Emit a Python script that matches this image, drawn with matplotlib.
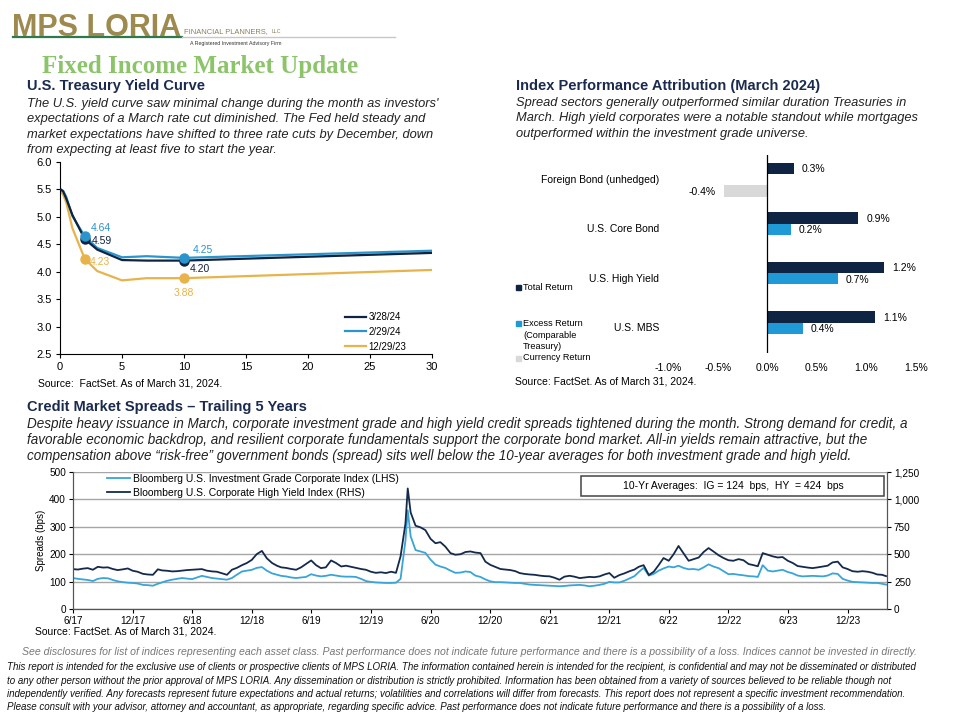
import numpy as np
import pandas as pd
import matplotlib
matplotlib.use("Agg")
import matplotlib.pyplot as plt
from matplotlib.patches import Rectangle
from matplotlib.lines import Line2D
from matplotlib.ticker import FuncFormatter

plt.rcParams["font.family"] = ["Liberation Sans", "DejaVu Sans"]

NAVY = "#0f2342"
BLUE = "#2a95cc"
GOLD = "#e8b34a"
HEAD = "#1b2b4f"

# ---- Treasury yield curve ----
maturities = [1 / 12, 0.25, 0.5, 1, 2, 3, 5, 7, 10, 30]
yc_0328 = [5.49, 5.46, 5.33, 5.03, 4.59, 4.40, 4.21, 4.20, 4.20, 4.34]
yc_0229 = [5.49, 5.47, 5.36, 5.01, 4.64, 4.43, 4.26, 4.28, 4.25, 4.38]
yc_1229 = [5.45, 5.40, 5.26, 4.79, 4.23, 4.01, 3.84, 3.88, 3.88, 4.03]
yc_names = ["3/28/24", "2/29/24", "12/29/23"]

# ---- Index performance attribution (March 2024, %) ----
attr_categories = ["Foreign Bond (unhedged)", "U.S. Core Bond", "U.S. High Yield", "U.S. MBS"]
total_return = [0.27, 0.92, 1.18, 1.09]
excess_return = [np.nan, 0.24, 0.71, 0.36]
currency_return = [-0.44, np.nan, np.nan, np.nan]

# ---- Credit spreads, 1st and 16th of each month (bps) ----
ig_2017 = [113, 110, 108, 106, 102, 110, 113, 112, 106, 101, 98, 96, 95, 93]
ig_2018 = [88, 87, 85, 92, 97, 103, 107, 110, 113, 111, 109, 115, 121, 117, 113, 111, 109, 107, 113, 125, 137, 140, 143, 150]
ig_2019 = [153, 140, 130, 125, 121, 119, 115, 113, 115, 117, 127, 122, 119, 121, 125, 122, 119, 118, 118, 117, 110, 102, 99, 97]
ig_2020 = [96, 95, 95, 96, 110, 250, 265, 215, 210, 205, 180, 162, 155, 150, 140, 132, 133, 137, 135, 122, 117, 108, 101, 98]
ig_2021 = [98, 97, 96, 95, 95, 92, 89, 88, 87, 86, 85, 84, 83, 84, 86, 87, 88, 86, 83, 85, 88, 92, 99, 97]
ig_2022 = [97, 103, 112, 120, 135, 150, 122, 128, 140, 148, 155, 152, 158, 150, 145, 146, 143, 152, 163, 155, 149, 138, 127, 128]
ig_2023 = [125, 123, 120, 119, 117, 160, 140, 137, 140, 143, 135, 130, 122, 119, 120, 121, 120, 119, 122, 130, 128, 110, 104, 99]
ig_2024 = [98, 97, 96, 95, 95, 92, 89]

hy_2017 = [364, 360, 368, 373, 358, 385, 378, 380, 365, 355, 362, 370, 349, 340]
hy_2018 = [321, 315, 312, 362, 352, 349, 343, 345, 350, 355, 358, 360, 364, 350, 343, 340, 325, 312, 358, 375, 400, 420, 448, 500]
hy_2019 = [530, 463, 420, 395, 380, 375, 365, 358, 380, 410, 443, 400, 373, 380, 443, 420, 388, 395, 385, 375, 365, 358, 340, 330]
hy_2020 = [335, 328, 340, 330, 480, 780, 880, 760, 745, 720, 640, 600, 610, 570, 510, 495, 500, 520, 525, 515, 510, 432, 403, 385]
hy_2021 = [365, 360, 355, 345, 328, 320, 315, 312, 305, 300, 298, 285, 267, 295, 303, 295, 282, 288, 293, 290, 298, 315, 328, 285]
hy_2022 = [310, 325, 345, 360, 385, 400, 310, 340, 400, 465, 440, 500, 575, 510, 440, 455, 470, 520, 556, 525, 490, 465, 445, 440]
hy_2023 = [455, 445, 410, 400, 390, 510, 495, 480, 470, 474, 440, 420, 392, 385, 378, 373, 380, 388, 395, 425, 432, 380, 365, 345]
hy_2024 = [340, 345, 340, 330, 315, 312, 300]

# Covid peak (Mar 23, 2020)
peak_date = ["2020-03-23"]
peak_ig = [360]
peak_hy = [1100]

months = pd.date_range("2017-06-01", "2024-03-01", freq="MS")
dates = []
for m in months:
    dates += [m, m + pd.Timedelta(days=15)]
dates.append(pd.Timestamp("2024-03-28"))

spreads = pd.DataFrame({
    "date": dates,
    "ig": ig_2017 + ig_2018 + ig_2019 + ig_2020 + ig_2021 + ig_2022 + ig_2023 + ig_2024,
    "hy": hy_2017 + hy_2018 + hy_2019 + hy_2020 + hy_2021 + hy_2022 + hy_2023 + hy_2024,
})
spreads = pd.concat([spreads, pd.DataFrame({"date": pd.to_datetime(peak_date), "ig": peak_ig, "hy": peak_hy})])
spreads = spreads.sort_values("date")

fig = plt.figure(figsize=(9.6, 7.2), dpi=100)


def fx(px):
    return px / 960


def fy(py):
    return 1 - py / 720


def put_lines(x, y0, dy, lines, **kw):
    for i, line in enumerate(lines):
        fig.text(fx(x), fy(y0 + i * dy), line, va="center", **kw)


# ---- header / logo ----
fig.text(fx(12), fy(36), "MPS LORIA", fontsize=22, weight="bold", color="#9e8a4e", va="baseline")
fig.text(fx(184), fy(33), "FINANCIAL PLANNERS,", fontsize=5.4, color="#8a7e5c", va="baseline")
fig.text(fx(272), fy(33), "LLC", fontsize=3.8, color="#8a7e5c", va="baseline")
fig.text(fx(190), fy(43), "A Registered Investment Advisory Firm", fontsize=3.8, color="#333333", va="center")
fig.add_artist(Line2D([fx(13), fx(182)], [fy(37), fy(37)], color="#2f7a4d", lw=1.6))
fig.add_artist(Line2D([fx(182), fx(395)], [fy(37), fy(37)], color="#c2cbc2", lw=1.0))
fig.text(fx(42), fy(66), "Fixed Income Market Update", fontsize=18, weight="bold",
         family=["Liberation Serif", "DejaVu Serif"], color="#8cc46a", va="center")

# ---- section 1 text ----
fig.text(fx(27), fy(86), "U.S. Treasury Yield Curve", fontsize=10.5, weight="bold", color=HEAD, va="center")
put_lines(27, 104, 15.3, [
    "The U.S. yield curve saw minimal change during the month as investors'",
    "expectations of a March rate cut diminished. The Fed held steady and",
    "market expectations have shifted to three rate cuts by December, down",
    "from expecting at least five to start the year.",
], fontsize=9.3, style="italic", color="#222222")

# ---- section 2 text ----
fig.text(fx(516), fy(86), "Index Performance Attribution (March 2024)", fontsize=10.5, weight="bold",
         color=HEAD, va="center")
put_lines(516, 103, 15.5, [
    "Spread sectors generally outperformed similar duration Treasuries in",
    "March. High yield corporates were a notable standout while mortgages",
    "outperformed within the investment grade universe.",
], fontsize=9.3, style="italic", color="#222222")

# ---- yield curve chart ----
ax1 = fig.add_axes([fx(60), fy(354), (432 - 60) / 960, (354 - 161.7) / 720])
for vals, name, col in zip([yc_0328, yc_0229, yc_1229], yc_names, [NAVY, BLUE, GOLD]):
    ax1.plot(maturities, vals, color=col, lw=1.6, label=name, zorder=3 if col == NAVY else 2)
    idx2, idx10 = maturities.index(2), maturities.index(10)
    ax1.plot([2, 10], [vals[idx2], vals[idx10]], "o", color=col, ms=6.5, zorder=4 if col == BLUE else 3)

label_spots = [
    (2, yc_0229[4], BLUE, (6, 8), "left"),
    (2, yc_0328[4], NAVY, (7, -2), "left"),
    (2, yc_1229[4], GOLD, (5, -3), "left"),
    (10, yc_0229[8], BLUE, (9, 8), "left"),
    (10, yc_0328[8], NAVY, (6, -8), "left"),
    (10, yc_1229[8], GOLD, (0, -15), "center"),
]
for x, y, col, off, ha in label_spots:
    ax1.annotate(f"{y:.2f}", (x, y), xytext=off, textcoords="offset pixels", ha=ha, va="center",
                 fontsize=7.5, color=col)

ax1.set_xlim(0, 30)
ax1.set_ylim(2.5, 6.0)
ax1.set_xticks(range(0, 31, 5))
ax1.set_yticks(np.arange(2.5, 6.01, 0.5))
ax1.yaxis.set_major_formatter(FuncFormatter(lambda v, _: f"{v:.1f}"))
ax1.tick_params(labelsize=8, length=3, width=0.8, color="black", pad=3)
for s in ["top", "right"]:
    ax1.spines[s].set_visible(False)
for s in ["left", "bottom"]:
    ax1.spines[s].set_color("black")
    ax1.spines[s].set_linewidth(0.8)
ax1.patch.set_alpha(0)
ax1.legend(loc="upper left", bbox_to_anchor=(fx(345), fy(312)), bbox_transform=fig.transFigure,
           frameon=False, fontsize=7, handlelength=2.2, handletextpad=0.2, labelspacing=0.5,
           borderpad=0, borderaxespad=0)
fig.text(fx(38), fy(384), "Source:  FactSet. As of March 31, 2024.", fontsize=7.5, va="center")

# ---- attribution bar chart ----
ax2 = fig.add_axes([fx(668), fy(353), 248 / 960, 198 / 720])
pos = np.arange(len(attr_categories))
h = 0.232
for vals, off, col in [(total_return, -h, NAVY), (excess_return, 0, "#1f9ad7"), (currency_return, h, "#d9d9d9")]:
    ax2.barh(pos + off, vals, height=h, color=col, edgecolor="none")
    for p, v in zip(pos, vals):
        if np.isnan(v):
            continue
        if v >= 0:
            ax2.annotate(f"{v:.1f}%", (v, p + off), xytext=(8, -1), textcoords="offset pixels",
                         ha="left", va="center", fontsize=7.5)
        else:
            ax2.annotate(f"{v:.1f}%", (v, p + off), xytext=(-8, -1), textcoords="offset pixels",
                         ha="right", va="center", fontsize=7.5)
ax2.set_ylim(len(attr_categories) - 0.5, -0.5)
ax2.set_xlim(-1.0, 1.5)
ax2.set_xticks(np.arange(-1.0, 1.51, 0.5))
ax2.xaxis.set_major_formatter(FuncFormatter(lambda v, _: f"{v:.1f}%"))
ax2.set_yticks([])
ax2.tick_params(axis="x", length=0, labelsize=7.5, pad=7)
for s in ax2.spines.values():
    s.set_visible(False)
ax2.axvline(0, color="black", lw=0.9)
ax2.patch.set_alpha(0)
for p, name in zip(pos, attr_categories):
    ax2.annotate(name, (-1.0, p), xytext=(-9, 0), textcoords="offset pixels", ha="right", va="center",
                 fontsize=7.5, annotation_clip=False)

legend_items = [("Total Return", NAVY, 287), ("Excess Return", "#1f9ad7", 323),
                ("Currency Return", "#d9d9d9", 358)]
for txt, col, yy in legend_items:
    fig.add_artist(Rectangle((fx(516), fy(yy + 2.5)), 5 / 960, 5 / 720, color=col, transform=fig.transFigure))
    fig.text(fx(523), fy(yy), txt, fontsize=6.6, va="center")
fig.text(fx(523), fy(335), "(Comparable", fontsize=6.6, va="center")
fig.text(fx(523), fy(346), "Treasury)", fontsize=6.6, va="center")
fig.text(fx(515), fy(382), "Source: FactSet. As of March 31, 2024.", fontsize=7.5, va="center")

# ---- section 3 text ----
fig.text(fx(27), fy(407), "Credit Market Spreads \u2013 Trailing 5 Years", fontsize=10.5, weight="bold",
         color=HEAD, va="center")
put_lines(27, 424, 16, [
    "Despite heavy issuance in March, corporate investment grade and high yield credit spreads tightened during the month. "
    "Strong demand for credit, a",
    "favorable economic backdrop, and resilient corporate fundamentals support the corporate bond market. "
    "All-in yields remain attractive, but the",
    "compensation above \u201crisk-free\u201d government bonds (spread) sits well below the 10-year averages "
    "for both investment grade and high yield.",
], fontsize=9.75, style="italic", color="#222222")

# ---- spreads chart ----
ax3 = fig.add_axes([fx(73), fy(609), (887 - 73) / 960, (609 - 472) / 720])
ax3r = ax3.twinx()
ax3.set_ylim(0, 500)
ax3r.set_ylim(0, 1250)
ax3.set_yticks(range(0, 501, 100))
ax3r.set_yticks(range(0, 1251, 250))
ax3r.yaxis.set_major_formatter(FuncFormatter(lambda v, _: f"{int(v):,}"))
ax3.grid(axis="y", color="#a6a6a6", lw=1)
ax3.set_axisbelow(True)
l_ig, = ax3.plot(spreads["date"], spreads["ig"], color="#38a5d8", lw=1.3,
                 label="Bloomberg U.S. Investment Grade Corporate Index (LHS)")
l_hy, = ax3r.plot(spreads["date"], spreads["hy"], color="#142a4c", lw=1.3,
                  label="Bloomberg U.S. Corporate High Yield Index (RHS)")
ax3.set_xlim(pd.Timestamp("2017-06-01"), pd.Timestamp("2024-03-31"))
ticks = pd.date_range("2017-06-01", "2023-12-01", freq="6MS")
ax3.set_xticks(ticks)
ax3.set_xticklabels([f"{d.month}/{d.strftime('%y')}" for d in ticks])
for a in (ax3, ax3r):
    a.tick_params(labelsize=7.2, length=3, width=0.8, pad=2)
    a.spines["top"].set_visible(False)
    for s in ["left", "right", "bottom"]:
        a.spines[s].set_color("#555555")
        a.spines[s].set_linewidth(0.8)
ax3.spines["bottom"].set_color("black")
ax3.set_ylabel("Spreads (bps)", fontsize=7, labelpad=2)
ax3r.legend(handles=[l_ig, l_hy], loc="upper left", bbox_to_anchor=(fx(107), fy(474)),
            bbox_transform=fig.transFigure, frameon=False, fontsize=7.5, handlelength=2.2,
            handletextpad=0.3, labelspacing=0.35, borderpad=0, borderaxespad=0)
fig.add_artist(Rectangle((fx(581), fy(496)), (884 - 581) / 960, 20 / 720, fill=False, ec="#444444",
                         lw=1.1, transform=fig.transFigure))
fig.text(fx(733), fy(486), "10-Yr Averages:  IG = 124  bps,  HY  = 424  bps", fontsize=7.5,
         ha="center", va="center")
fig.text(fx(35), fy(632), "Source: FactSet. As of March 31, 2024.", fontsize=7.5, va="center")

# ---- footer ----
fig.text(fx(22), fy(652), "See disclosures for list of indices representing each asset class. Past performance does "
         "not indicate future performance and there is a possibility of a loss. Indices cannot be invested in directly.",
         fontsize=7.6, style="italic", color="#777777", va="center")
put_lines(7, 667, 13.5, [
    "This report is intended for the exclusive use of clients or prospective clients of MPS LORIA. The information "
    "contained herein is intended for the recipient, is confidential and may not be disseminated or distributed",
    "to any other person without the prior approval of MPS LORIA. Any dissemination or distribution is strictly "
    "prohibited. Information has been obtained from a variety of sources believed to be reliable though not",
    "independently verified. Any forecasts represent future expectations and actual returns; volatilities and "
    "correlations will differ from forecasts. This report does not represent a specific investment recommendation.",
    "Please consult with your advisor, attorney and accountant, as appropriate, regarding specific advice. Past "
    "performance does not indicate future performance and there is a possibility of a loss.",
], fontsize=7.05, style="italic", color="#111111")

fig.savefig("out.png", dpi=100)
